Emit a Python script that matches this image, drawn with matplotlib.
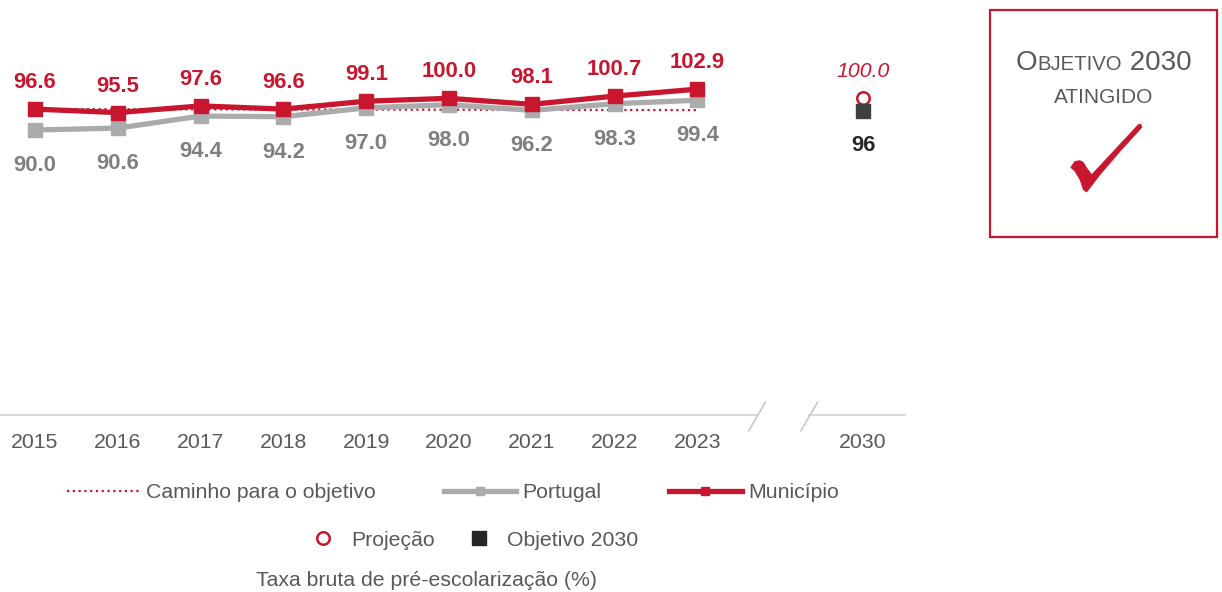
import matplotlib
matplotlib.use("Agg")
import matplotlib.pyplot as plt
from matplotlib.lines import Line2D
from matplotlib.patches import Rectangle, Polygon

plt.rcParams['font.family'] = ['Liberation Sans', 'DejaVu Sans']

# ---- data ----
years = ["2015", "2016", "2017", "2018", "2019", "2020", "2021", "2022", "2023"]
municipio = [96.6, 95.5, 97.6, 96.6, 99.1, 100.0, 98.1, 100.7, 102.9]
portugal = [90.0, 90.6, 94.4, 94.2, 97.0, 98.0, 96.2, 98.3, 99.4]
caminho = [96.6, 96.56, 96.52, 96.48, 96.44, 96.40, 96.36, 96.32, 96.28]
target_year = "2030"
projecao = 100.0
objetivo = 96

RED = '#C8162E'
GRAY = '#ABABAB'
GRAY_TXT = '#7F7F7F'
TICK = '#595959'
DARK = '#404040'

W, H = 1222, 592
fig = plt.figure(figsize=(W / 100, H / 100), dpi=100)

def fx(px):
    return px / W

def fy(py):
    return 1 - py / H

ax = fig.add_axes([fx(0), fy(415), fx(905), (415 - 35) / H])
x = list(range(len(years)))
x_t = len(years) + 1

ax.plot(x, caminho, color=RED, lw=1.6, linestyle=(0, (1, 1.6)), zorder=2)
ax.plot(x, portugal, color=GRAY, lw=3.8, marker='s', ms=9.5, zorder=3)
ax.plot(x, municipio, color=RED, lw=3.8, marker='s', ms=10, zorder=4)
ax.plot([x_t], [projecao], linestyle='none', marker='o', ms=9, mfc='white',
        mec=RED, mew=1.8, zorder=5)
ax.plot([x_t], [objetivo], linestyle='none', marker='s', ms=9.5, color=DARK, zorder=5)

for xi, v in zip(x, municipio):
    ax.annotate(f"{v:.1f}", (xi, v), xytext=(0, 19), textcoords='offset points',
                ha='center', va='center', color=RED, fontsize=15.8, fontweight='bold')
for xi, v in zip(x, portugal):
    ax.annotate(f"{v:.1f}", (xi, v), xytext=(0, -25.5), textcoords='offset points',
                ha='center', va='center', color=GRAY_TXT, fontsize=15.8, fontweight='bold')
ax.annotate(f"{projecao:.1f}", (x_t, projecao), xytext=(0, 19.5), textcoords='offset points',
            ha='center', va='center', color=RED, fontsize=15.3, fontstyle='italic')
ax.annotate(f"{objetivo}", (x_t, objetivo), xytext=(0, -25), textcoords='offset points',
            ha='center', va='center', color='#262626', fontsize=15.8, fontweight='bold')

xl = (-35 / 82.8, (905 - 35) / 82.8)
ax.set_xlim(*xl)
ax.set_ylim(0, 120)
for s in ax.spines.values():
    s.set_visible(False)
ax.set_yticks([])
ax.set_xticks(x + [x_t])
ax.set_xticklabels(years + [target_year], fontsize=15.3, color=TICK)
ax.tick_params(axis='x', length=0, pad=13)

# baseline with break
b1, b2 = 8.72, 9.35
ax.plot([xl[0], b1], [0, 0], color='#D9D9D9', lw=1.5, clip_on=False, zorder=1)
ax.plot([b2, xl[1]], [0, 0], color='#D9D9D9', lw=1.5, clip_on=False, zorder=1)
for b in (b1, b2):
    ax.plot([b - 0.1, b + 0.1], [-5, 4], color='#C8C8C8', lw=1.2, clip_on=False, zorder=1)

# legends
h1 = [Line2D([], [], color=RED, lw=1.6, linestyle=(0, (1, 1.6))),
      Line2D([], [], color=GRAY, lw=3.8, marker='s', ms=6),
      Line2D([], [], color=RED, lw=3.8, marker='s', ms=6)]
l1 = fig.legend(h1, ["Caminho para o objetivo", "Portugal", "Município"], loc='center',
                bbox_to_anchor=(fx(453), fy(493)), ncol=3, frameon=False, fontsize=15.3,
                handlelength=3.4, handletextpad=0.3, columnspacing=3.2, borderaxespad=0)
for t in l1.get_texts():
    t.set_color(TICK)
h2 = [Line2D([], [], linestyle='none', marker='o', ms=9, mfc='white', mec=RED, mew=1.8),
      Line2D([], [], linestyle='none', marker='s', ms=9.5, color='#262626')]
l2 = fig.legend(h2, ["Projeção", "Objetivo 2030"], loc='center',
                bbox_to_anchor=(fx(472), fy(540)), ncol=2, frameon=False, fontsize=15.3,
                handlelength=1.6, handletextpad=0.5, columnspacing=1.3, borderaxespad=0)
for t in l2.get_texts():
    t.set_color(TICK)

fig.text(fx(427), fy(580), "Taxa bruta de pré-escolarização (%)", ha='center', va='center',
         fontsize=15.3, color=TICK)

# objective box
fig.patches.append(Rectangle((fx(990), fy(237)), fx(1217 - 990), (237 - 10) / H,
                             transform=fig.transFigure, fill=False, ec=RED, lw=1.6))
renderer = fig.canvas.get_renderer()
parts = [("O", 20), ("BJETIVO", 14.6), (" 2030", 20)]
texts = []
total = 0
for s, fs in parts:
    t = fig.text(0, fy(70), s, ha='left', va='baseline', fontsize=fs, color=TICK)
    w = t.get_window_extent(renderer).width
    texts.append((t, w))
    total += w
cur = 1103.5 - total / 2
for t, w in texts:
    t.set_x(fx(cur))
    cur += w
fig.text(fx(1104), fy(103), "ATINGIDO", ha='center', va='baseline', fontsize=15, color=TICK)

check_px = [(1070.7, 167.3), (1075, 161.3), (1080, 160.7), (1083, 162), (1086.7, 168),
            (1091.7, 174.7), (1138.3, 124.7), (1140.7, 124), (1142, 127.3), (1120, 151.3),
            (1100, 174.7), (1086.7, 192), (1083.3, 189.7), (1080, 179.7), (1075, 171.3)]
fig.patches.append(Polygon([(fx(a), fy(b)) for a, b in check_px], closed=True,
                           transform=fig.transFigure, fc=RED, ec=RED, lw=0.5))

fig.savefig("out.png", dpi=100)
